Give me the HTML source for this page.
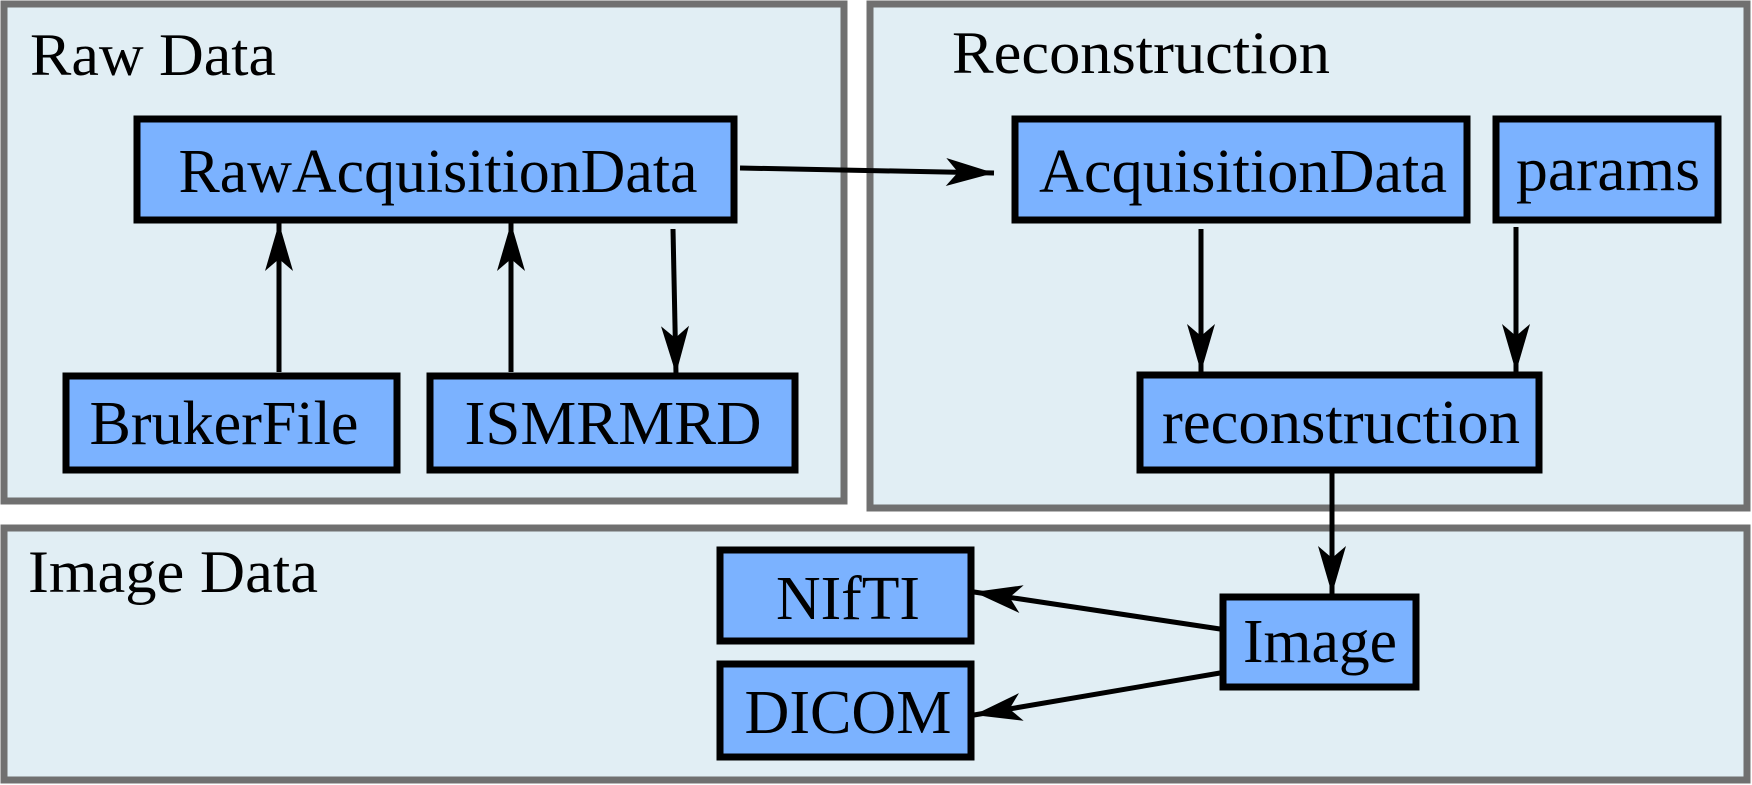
<!DOCTYPE html>
<html><head><meta charset="utf-8"><style>html,body{margin:0;padding:0;background:#fff}svg{display:block}</style></head>
<body>
<svg width="1752" height="785" viewBox="0 0 1752 785" xmlns="http://www.w3.org/2000/svg" font-family="'Liberation Serif', serif">
<defs>
<marker id="a" viewBox="0 -14 48 28" refX="48" refY="0" markerWidth="48" markerHeight="28" markerUnits="userSpaceOnUse" orient="auto">
<path d="M0,-14 L48,0 L0,14 L12,0 Z" fill="#000"/>
</marker>
</defs>
<g fill="#e1eef4" stroke="#707070" stroke-width="7">
<rect x="4" y="4" width="840" height="497"/>
<rect x="870" y="4" width="877" height="504"/>
<rect x="4" y="528" width="1743" height="252"/>
</g>
<g font-size="60" fill="#000">
<text x="30" y="75" textLength="246" lengthAdjust="spacingAndGlyphs">Raw Data</text>
<text x="952" y="73" textLength="378" lengthAdjust="spacingAndGlyphs">Reconstruction</text>
<text x="28" y="592" textLength="290" lengthAdjust="spacingAndGlyphs">Image Data</text>
</g>
<g fill="#7bb2ff" stroke="#000" stroke-width="7">
<rect x="137" y="119" width="597" height="101"/>
<rect x="66" y="376" width="331" height="94"/>
<rect x="430" y="376" width="365" height="94"/>
<rect x="1015" y="119" width="452" height="101"/>
<rect x="1496" y="119" width="222" height="101"/>
<rect x="1140" y="375" width="399" height="95"/>
<rect x="720" y="550" width="251" height="91"/>
<rect x="720" y="664" width="251" height="93"/>
<rect x="1223" y="597" width="193" height="90"/>
</g>
<g font-size="62" fill="#000" text-anchor="middle">
<text x="438" y="192" textLength="519" lengthAdjust="spacingAndGlyphs">RawAcquisitionData</text>
<text x="224" y="444" textLength="269" lengthAdjust="spacingAndGlyphs">BrukerFile</text>
<text x="613" y="444" textLength="297" lengthAdjust="spacingAndGlyphs">ISMRMRD</text>
<text x="1243" y="192" textLength="408" lengthAdjust="spacingAndGlyphs">AcquisitionData</text>
<text x="1608" y="190" textLength="184" lengthAdjust="spacingAndGlyphs">params</text>
<text x="1341" y="443" textLength="358" lengthAdjust="spacingAndGlyphs">reconstruction</text>
<text x="848" y="619" textLength="144" lengthAdjust="spacingAndGlyphs">NIfTI</text>
<text x="848" y="733" textLength="207" lengthAdjust="spacingAndGlyphs">DICOM</text>
<text x="1320" y="662" textLength="154" lengthAdjust="spacingAndGlyphs">Image</text>
</g>
<g stroke="#000" stroke-width="5" fill="none" marker-end="url(#a)">
<line x1="740" y1="168" x2="994" y2="173"/>
<line x1="279" y1="372" x2="279" y2="223"/>
<line x1="511" y1="372" x2="511" y2="223"/>
<line x1="673" y1="229" x2="676" y2="374"/>
<line x1="1201" y1="229" x2="1201" y2="372"/>
<line x1="1516" y1="227" x2="1516" y2="372"/>
<line x1="1332" y1="473" x2="1332" y2="594"/>
<line x1="1220" y1="629" x2="974" y2="592"/>
<line x1="1220" y1="673" x2="974" y2="715"/>
</g>
</svg>
</body></html>
